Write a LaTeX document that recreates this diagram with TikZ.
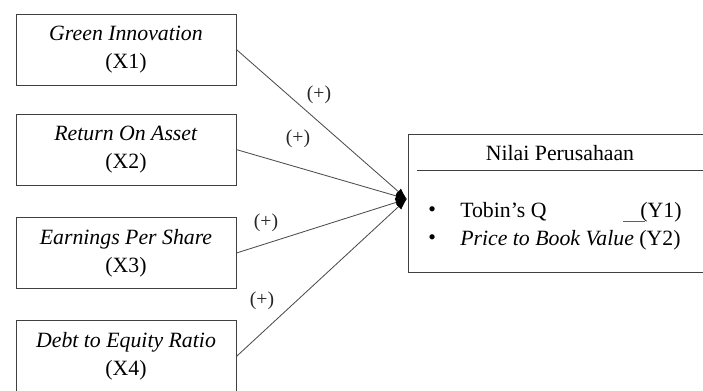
\documentclass[tikz,border=0pt]{standalone}
\usepackage{fontspec}
\setmainfont{Liberation Serif}
\usetikzlibrary{arrows.meta}

\begin{document}
\begin{tikzpicture}[
    varbox/.style = {draw = black!75, line width = 0.7pt, minimum width = 5.5cm, minimum height = 1.775cm, align = center, font = \fontsize{15.5}{20}\selectfont},
    link/.style = {-{Latex[length = 0.28cm, width = 0.2cm, black]}, black!70, line width = 0.6pt},
    sign/.style = {font = \fontsize{14}{16}\selectfont, black!85},
    item/.style = {anchor = west, inner sep = 0pt, font = \fontsize{15.5}{18}\selectfont}
  ]
  \useasboundingbox (0, 0) rectangle (17.575, -9.75);
  \clip (0, 0) rectangle (17.575, -9.75);
  \node[varbox] (Green Innovation) at (3.15, -1.24) {\textit{Green Innovation}\\(X1)};
  \node[varbox] (Return On Asset) at (3.15, -3.74) {\textit{Return On Asset}\\(X2)};
  \node[varbox] (Earnings Per Share) at (3.15, -6.325) {\textit{Earnings Per Share}\\(X3)};
  \node[varbox] (Debt to Equity) at (3.15, -8.91) {\textit{Debt to Equity Ratio}\\(X4)};
  \node[draw = black!75, line width = 0.7pt, minimum width = 8cm, minimum height = 3.45cm] (Nilai Perusahaan) at (14.2, -5.075) {};
  \node[font = \fontsize{15.5}{18}\selectfont] (Nilai Title) at (14.0, -3.825) {Nilai Perusahaan};
  \draw[black!75, line width = 0.7pt] (10.425, -4.25) -- (18.3, -4.25);
  \node[item] (Bullet Y1) at (10.7, -5.3) {\textbullet};
  \node[item] (Tobin Q) at (11.5, -5.3) {Tobin’s Q};
  \node[item] (Tobin Q Code) at (15.575, -5.3) {\textcolor{blue!70}{\rule[-3pt]{0.55cm}{0.5pt}}\kern-0.12cm(Y1)};
  \node[item] (Bullet Y2) at (10.7, -6.0) {\textbullet};
  \node[item] (Book Value) at (11.5, -6.0) {\textit{Price to Book Value} (Y2)};
  \coordinate (Nilai Dot) at (10.17, -4.975);
  \draw[link] (Green Innovation.east) -- (Nilai Dot);
  \draw[link] (Return On Asset.east) -- (Nilai Dot);
  \draw[link] (Earnings Per Share.east) -- (Nilai Dot);
  \draw[link] (Debt to Equity.east) -- (Nilai Dot);
  \node[sign] at (7.975, -2.375) {(+)};
  \node[sign] at (7.45, -3.475) {(+)};
  \node[sign] at (6.65, -5.575) {(+)};
  \node[sign] at (6.55, -7.525) {(+)};
\end{tikzpicture}
\end{document}
